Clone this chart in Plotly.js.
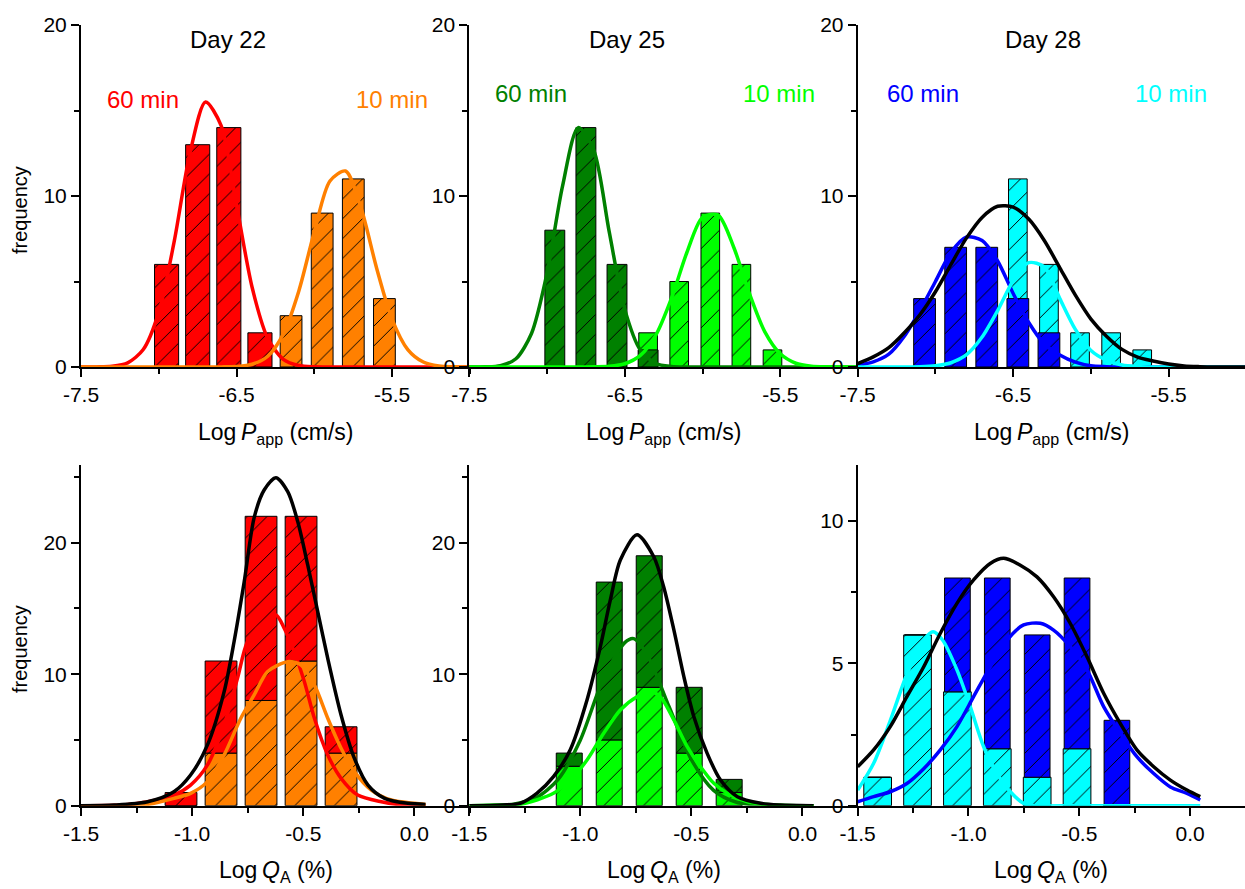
<!DOCTYPE html>
<html>
<head>
<meta charset="utf-8">
<script src="https://cdn.plot.ly/plotly-3.0.1.min.js"></script>
<style>
html,body{margin:0;padding:0;background:#fff;}
#chart{width:1245px;height:889px;}
</style>
</head>
<body>
<div id="chart"></div>
<script>
// ---------------- DATA ----------------
// Top row: Log Papp histograms (bin centres, counts)
const d22Bins60 = [-6.95, -6.75, -6.55, -6.35];
const d22Counts60 = [6, 13, 14, 2];
const d22Bins10 = [-6.15, -5.95, -5.75, -5.55];
const d22Counts10 = [3, 9, 11, 4];

const d25Bins60 = [-6.95, -6.75, -6.55, -6.35];
const d25Counts60 = [8, 14, 6, 1];
const d25Bins10 = [-6.35, -6.15, -5.95, -5.75, -5.55];
const d25Counts10 = [2, 5, 9, 6, 1];

const d28Bins60 = [-7.07, -6.87, -6.67, -6.47, -6.27];
const d28Counts60 = [4, 7, 7, 4, 2];
const d28Bins10 = [-6.47, -6.27, -6.07, -5.87, -5.67];
const d28Counts10 = [11, 6, 2, 2, 1];

// Top row fitted curves (on a common x grid)
const papGridX = [-7.5,-7.4,-7.3,-7.2,-7.1,-7.0,-6.9,-6.8,-6.7,-6.6,-6.5,-6.4,-6.3,-6.2,-6.1,-6.0,-5.9,-5.8,-5.7,-5.6,-5.5,-5.4,-5.3,-5.2,-5.1,-5.0];
const d22Fit60 = [0,0.005,0.04,0.24,1.02,3.21,7.39,12.49,15.5,14.13,9.46,4.65,1.68,0.45,0.09,0.01,0,0,0,0,0,0,0,0,0,0];
const d22Fit10 = [0,0,0,0,0,0,0,0,0,0.005,0.03,0.16,0.63,1.92,4.45,7.93,10.88,11.46,9.29,5.78,2.77,1.02,0.29,0.06,0.01,0];
const d25Fit60 = [0,0.01,0.08,0.48,1.96,5.5,10.59,14.0,12.69,7.9,3.37,0.99,0.2,0.03,0,0,0,0,0,0,0,0,0,0,0,0];
const d25Fit10 = [0,0,0,0,0,0,0,0,0.01,0.04,0.19,0.68,1.87,4.01,6.71,8.75,8.88,7.02,4.33,2.07,0.77,0.22,0.05,0.01,0,0];
const d28Fit60 = [0.1,0.3,0.75,1.8,3.3,5.0,6.7,7.6,7.4,6.2,4.3,2.6,1.35,0.7,0.28,0.07,0.02,0,0,0,0,0,0,0,0,0];
const d28Fit10 = [0,0,0,0,0.01,0.07,0.25,0.72,1.75,3.3,5.05,6.1,5.85,4.0,2.2,0.97,0.4,0.12,0.03,0,0,0,0,0,0,0];
const d28FitAll = [0.2,0.59,1.13,2.0,3.05,4.4,6.0,7.55,8.75,9.4,9.35,8.65,7.4,5.8,4.2,2.8,1.8,1.03,0.58,0.35,0.17,0.06,0.02,0,0,0];

// Bottom row: Log QA histograms (10 min counts at the bottom, 60 min counts stacked on top)
const qaBins = [-1.05, -0.87, -0.69, -0.51, -0.33];
const d22QCounts10 = [0, 4, 8, 11, 4];
const d22QCounts60 = [1, 7, 14, 11, 2];
const d25QCounts10 = [3, 5, 9, 4, 1];
const d25QCounts60 = [1, 12, 10, 5, 1];
const d28QBins = [-1.41, -1.23, -1.05, -0.87, -0.69, -0.51, -0.33];
const d28QCounts10 = [1, 6, 4, 2, 1, 2, 0];
const d28QCounts60 = [0, 0, 4, 6, 5, 6, 3];

// Bottom row fitted curves
const d22QFitAllX = [-1.5,-1.35,-1.2,-1.082,-1.007,-0.931,-0.856,-0.811,-0.766,-0.721,-0.676,-0.623,-0.57,-0.525,-0.48,-0.435,-0.39,-0.33,-0.27,-0.209,-0.134,-0.029,0.05];
const d22QFitAllY = [0,0.05,0.3,1.06,2.33,4.62,8.67,12.5,17.0,21.9,24.0,24.94,23.88,21.6,18.3,14.75,11.2,6.9,3.6,1.57,0.56,0.18,0.1];
const d22QFit60X = [-1.5,-1.3,-1.2,-1.082,-1.007,-0.931,-0.856,-0.796,-0.751,-0.691,-0.623,-0.586,-0.541,-0.495,-0.45,-0.39,-0.33,-0.255,-0.149,-0.05,0.05];
const d22QFit60Y = [0,0.08,0.3,0.81,1.57,3.1,6.14,9.69,12.47,13.74,14.5,13.49,11.71,9.43,6.65,3.86,2.08,0.81,0.3,0.05,0];
const d22QFit10X = [-1.5,-1.3,-1.2,-1.082,-1.007,-0.931,-0.856,-0.781,-0.721,-0.661,-0.57,-0.51,-0.45,-0.39,-0.33,-0.27,-0.194,-0.104,0.001,0.05];
const d22QFit10Y = [0,0.02,0.1,0.56,0.94,1.83,3.86,6.65,8.42,10.19,10.95,10.7,9.18,6.65,4.37,2.59,1.19,0.43,0.18,0.1];

const d25QFitAllX = [-1.5,-1.35,-1.271,-1.196,-1.121,-1.046,-0.97,-0.91,-0.865,-0.82,-0.745,-0.67,-0.625,-0.579,-0.534,-0.489,-0.429,-0.369,-0.293,-0.188,-0.1,0.05];
const d25QFitAllY = [0,0.05,0.18,0.94,2.21,4.24,8.04,12.09,15.64,18.68,20.59,18.94,16.65,13.36,9.81,6.77,3.98,1.95,0.68,0.18,0.05,0];
const d25QFit60X = [-1.5,-1.4,-1.3,-1.2,-1.1,-1.0,-0.9,-0.8,-0.76,-0.7,-0.6,-0.5,-0.4,-0.3,-0.2,-0.1,0.05];
const d25QFit60Y = [0,0.02,0.12,0.6,2.0,5.0,9.5,12.4,12.7,11.5,7.5,3.5,1.17,0.28,0.05,0.01,0];
const d25QFit10X = [-1.5,-1.4,-1.271,-1.121,-1.046,-0.97,-0.895,-0.82,-0.745,-0.685,-0.64,-0.579,-0.519,-0.459,-0.399,-0.338,-0.248,-0.1,0.05];
const d25QFit10Y = [0,0.03,0.1,0.94,1.95,3.47,5.51,7.28,8.29,8.67,8.29,6.52,4.49,2.97,1.7,0.94,0.3,0.03,0];

const d28QFitAllX = [-1.5,-1.428,-1.353,-1.278,-1.202,-1.127,-1.052,-0.977,-0.902,-0.841,-0.766,-0.691,-0.616,-0.541,-0.465,-0.39,-0.315,-0.24,-0.164,-0.089,-0.014,0.046];
const d28QFitAllY = [1.37,1.96,2.78,3.83,4.88,6.06,7.11,7.93,8.51,8.69,8.45,8.04,7.34,6.41,5.23,3.95,2.89,1.96,1.37,0.9,0.55,0.32];
const d28QFit60X = [-1.5,-1.428,-1.353,-1.278,-1.202,-1.127,-1.052,-0.977,-0.902,-0.826,-0.751,-0.676,-0.616,-0.541,-0.465,-0.39,-0.315,-0.24,-0.164,-0.089,-0.014,0.046];
const d28QFit60Y = [0.14,0.32,0.49,0.78,1.3,1.96,2.78,3.83,4.88,5.82,6.35,6.41,6.17,5.59,4.77,3.48,2.55,1.72,1.13,0.66,0.43,0.2];
const d28QFit10X = [-1.5,-1.428,-1.353,-1.278,-1.202,-1.16,-1.117,-1.052,-0.992,-0.932,-0.871,-0.811,-0.751,-0.7,-0.5,-0.2,0.046];
const d28QFit10Y = [0.55,1.49,2.99,4.62,5.82,6.11,5.82,4.77,3.48,2.08,1.13,0.49,0.08,0,0,0,0];

// Text
const dayTitles = ['Day 22', 'Day 25', 'Day 28'];
const label60 = '60 min';
const label10 = '10 min';
const papTitle = 'Log\u2009<i>P</i><sub>app</sub> (cm/s)';
const qaTitle = 'Log\u2009<i>Q</i><sub>A</sub> (%)';
const freqTitle = 'frequency';
const papTickVals = [-7.5, -6.5, -5.5];
const papTickText = ['-7.5', '-6.5', '-5.5'];
const qaTickVals = [-1.5, -1.0, -0.5, 0.0];
const qaTickText = ['-1.5', '-1.0', '-0.5', '0.0'];

// ---------------- STYLE ----------------
const FONT = 'Arial, "Liberation Sans", sans-serif';
const C = {red:'#FF0000', orange:'#FF8000', dgreen:'#008000', lgreen:'#00FF00', blue:'#0000FF', cyan:'#00FFFF', black:'#000000'};

function barTrace(x, y, color, width, xa, ya, base) {
  const t = {
    type: 'bar', x: x, y: y, width: width, xaxis: xa, yaxis: ya,
    marker: {color: color, line: {color: '#000', width: 1},
             pattern: {shape: '/', fgcolor: '#000', bgcolor: color, size: 14, solidity: 0.07}},
    hoverinfo: 'skip', showlegend: false
  };
  if (base) t.base = base;
  return t;
}
function curve(x, y, color, xa, ya) {
  return {type: 'scatter', mode: 'lines', x: x, y: y, xaxis: xa, yaxis: ya,
          line: {color: color, width: 3.5, shape: 'spline', smoothing: 0.8},
          hoverinfo: 'skip', showlegend: false};
}

const data = [
  // Day 22 Papp
  barTrace(d22Bins60, d22Counts60, C.red, 0.155, 'x', 'y'),
  barTrace(d22Bins10, d22Counts10, C.orange, 0.14, 'x', 'y'),
  curve(papGridX, d22Fit60, C.red, 'x', 'y'),
  curve(papGridX, d22Fit10, C.orange, 'x', 'y'),
  // Day 25 Papp
  barTrace(d25Bins10, d25Counts10, C.lgreen, 0.12, 'x2', 'y2'),
  barTrace(d25Bins60, d25Counts60, C.dgreen, 0.128, 'x2', 'y2'),
  curve(papGridX, d25Fit60, C.dgreen, 'x2', 'y2'),
  curve(papGridX, d25Fit10, C.lgreen, 'x2', 'y2'),
  // Day 28 Papp
  barTrace(d28Bins10, d28Counts10, C.cyan, 0.12, 'x3', 'y3'),
  barTrace(d28Bins60, d28Counts60, C.blue, 0.14, 'x3', 'y3'),
  curve(papGridX, d28Fit60, C.blue, 'x3', 'y3'),
  curve(papGridX, d28Fit10, C.cyan, 'x3', 'y3'),
  curve(papGridX, d28FitAll, C.black, 'x3', 'y3'),
  // Day 22 QA
  barTrace(qaBins, d22QCounts10, C.orange, 0.143, 'x4', 'y4'),
  barTrace(qaBins, d22QCounts60, C.red, 0.143, 'x4', 'y4', d22QCounts10),
  curve(d22QFit60X, d22QFit60Y, C.red, 'x4', 'y4'),
  curve(d22QFit10X, d22QFit10Y, C.orange, 'x4', 'y4'),
  curve(d22QFitAllX, d22QFitAllY, C.black, 'x4', 'y4'),
  // Day 25 QA
  barTrace(qaBins, d25QCounts10, C.lgreen, 0.117, 'x5', 'y5'),
  barTrace(qaBins, d25QCounts60, C.dgreen, 0.117, 'x5', 'y5', d25QCounts10),
  curve(d25QFit60X, d25QFit60Y, C.dgreen, 'x5', 'y5'),
  curve(d25QFit10X, d25QFit10Y, C.lgreen, 'x5', 'y5'),
  curve(d25QFitAllX, d25QFitAllY, C.black, 'x5', 'y5'),
  // Day 28 QA
  barTrace(d28QBins, d28QCounts10, C.cyan, 0.125, 'x6', 'y6'),
  barTrace(d28QBins, d28QCounts60, C.blue, 0.116, 'x6', 'y6', d28QCounts10),
  curve(d28QFit10X, d28QFit10Y, C.cyan, 'x6', 'y6'),
  curve(d28QFit60X, d28QFit60Y, C.blue, 'x6', 'y6'),
  curve(d28QFitAllX, d28QFitAllY, C.black, 'x6', 'y6')
];

const W = 1245, H = 889;
const px = v => v / W;
const py = v => 1 - v / H;

function axis(extra) {
  return Object.assign({
    showline: true, linecolor: '#000', linewidth: 2,
    ticks: 'outside', ticklen: 8, tickwidth: 2, tickcolor: '#000',
    showgrid: false, zeroline: false, fixedrange: true,
    tickfont: {family: FONT, size: 21, color: '#000'},
    tickmode: 'array'
  }, extra);
}
function minor(vals) {
  return {tickmode: 'array', tickvals: vals, ticks: 'outside', ticklen: 5, tickwidth: 2, tickcolor: '#000', showgrid: false};
}

const topY = [py(367), py(25)];
const botY = [py(805.7), py(465)];
const colX = [[px(81), px(470)], [px(469.3), px(858)], [px(857.7), 1]];

const layout = {
  width: W, height: H,
  margin: {l: 0, r: 0, t: 0, b: 0},
  paper_bgcolor: '#fff', plot_bgcolor: 'rgba(0,0,0,0)',
  barmode: 'overlay', showlegend: false,
  font: {family: FONT, color: '#000'},
  xaxis:  axis({domain: colX[0], range: [-7.5, -5.0], anchor: 'y', tickvals: papTickVals, ticktext: papTickText, minor: minor([-7.0, -6.0, -5.0])}),
  xaxis2: axis({domain: colX[1], range: [-7.5, -5.0], anchor: 'y2', tickvals: papTickVals, ticktext: papTickText, minor: minor([-7.0, -6.0, -5.0])}),
  xaxis3: axis({domain: colX[2], range: [-7.5, -5.009], anchor: 'y3', tickvals: papTickVals, ticktext: papTickText, minor: minor([-7.0, -6.0])}),
  xaxis4: axis({domain: colX[0], range: [-1.5, 0.25], anchor: 'y4', tickvals: qaTickVals, ticktext: qaTickText, minor: minor([-1.25, -0.75, -0.25, 0.25])}),
  xaxis5: axis({domain: colX[1], range: [-1.5, 0.25], anchor: 'y5', tickvals: qaTickVals, ticktext: qaTickText, minor: minor([-1.25, -0.75, -0.25, 0.25])}),
  xaxis6: axis({domain: colX[2], range: [-1.5, 0.248], anchor: 'y6', tickvals: qaTickVals, ticktext: qaTickText, minor: minor([-1.25, -0.75, -0.25])}),
  yaxis:  axis({domain: topY, range: [0, 20], anchor: 'x', tickvals: [0, 10, 20], ticktext: ['0', '10', '20'], minor: minor([5, 15])}),
  yaxis2: axis({domain: topY, range: [0, 20], anchor: 'x2', tickvals: [0, 10, 20], ticktext: ['0', '10', '20'], minor: minor([5, 15])}),
  yaxis3: axis({domain: topY, range: [0, 20], anchor: 'x3', tickvals: [0, 10, 20], ticktext: ['0', '10', '20'], minor: minor([5, 15])}),
  yaxis4: axis({domain: botY, range: [0, 25.9], anchor: 'x4', tickvals: [0, 10, 20], ticktext: ['0', '10', '20'], minor: minor([5, 15, 25])}),
  yaxis5: axis({domain: botY, range: [0, 25.9], anchor: 'x5', tickvals: [0, 10, 20], ticktext: ['0', '10', '20'], minor: minor([5, 15, 25])}),
  yaxis6: axis({domain: botY, range: [0, 11.97], anchor: 'x6', tickvals: [0, 5, 10], ticktext: ['0', '5', '10'], minor: minor([2.5, 7.5])}),
  annotations: []
};

function note(text, x, y, size, color, extra) {
  layout.annotations.push(Object.assign({
    text: text, x: px(x), y: py(y), xref: 'paper', yref: 'paper',
    xanchor: 'center', yanchor: 'middle', showarrow: false,
    font: {family: FONT, size: size, color: color}
  }, extra || {}));
}
// Day titles
note(dayTitles[0], 228, 40, 24, '#000');
note(dayTitles[1], 627, 40, 24, '#000');
note(dayTitles[2], 1043, 40, 24, '#000');
// 60 / 10 min labels
note(label60, 142.5, 100, 24, C.red);
note(label10, 391.7, 100, 24, C.orange);
note(label60, 530.5, 94, 24, C.dgreen);
note(label10, 778.8, 94, 24, C.lgreen);
note(label60, 922.5, 94, 24, C.blue);
note(label10, 1171, 94, 24, C.cyan);
// axis titles
note(papTitle, 275.5, 433, 23, '#000');
note(papTitle, 663.7, 433, 23, '#000');
note(papTitle, 1051.4, 433, 23, '#000');
note(qaTitle, 275.5, 871, 23, '#000');
note(qaTitle, 663.7, 871, 23, '#000');
note(qaTitle, 1051.4, 871, 23, '#000');
note(freqTitle, 20, 210, 20, '#000', {textangle: -90});
note(freqTitle, 20, 649, 20, '#000', {textangle: -90});

Plotly.newPlot('chart', data, layout, {displayModeBar: false, staticPlot: true});
</script>
</body>
</html>
